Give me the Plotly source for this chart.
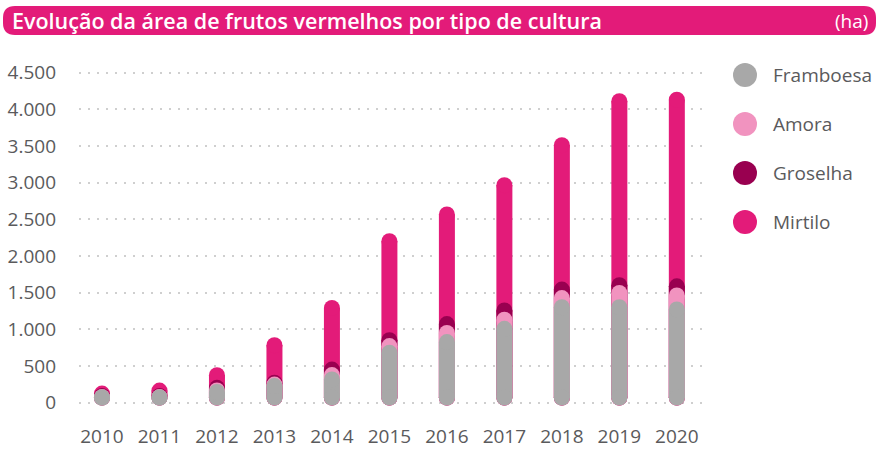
import plotly.graph_objects as go

# ── Data (ha) ────────────────────────────────────────────────────────────────
years = [2010, 2011, 2012, 2013, 2014, 2015, 2016, 2017, 2018, 2019, 2020]
framboesa = [175, 175, 255, 335, 425, 790, 935, 1115, 1410, 1410, 1380]
amora = [10, 10, 20, 20, 60, 90, 125, 125, 125, 195, 190]
groselha = [15, 15, 35, 25, 75, 80, 120, 125, 115, 105, 125]
mirtilo = [32, 73, 173, 512, 840, 1350, 1495, 1710, 1970, 2510, 2545]

series_names = ["Framboesa", "Amora", "Groselha", "Mirtilo"]
series_values = [framboesa, amora, groselha, mirtilo]
y_tickvals = [0, 500, 1000, 1500, 2000, 2500, 3000, 3500, 4000, 4500]
y_ticktext = ["0", "500", "1.000", "1.500", "2.000", "2.500",
              "3.000", "3.500", "4.000", "4.500"]

# ── Styling ──────────────────────────────────────────────────────────────────
COLORS = {
    "Framboesa": "#a8a8a8",
    "Amora": "#f193bf",
    "Groselha": "#990050",
    "Mirtilo": "#e31b79",
}
TITLE_BG = "#e31b79"
TEXT = "#5a5a5c"
FONT = "Open Sans, Lato, Arial, sans-serif"

W, H = 879, 449
M_L, M_R, M_T, M_B = 79, 10, 69, 42
PLOT_W = W - M_L - M_R
PLOT_H = H - M_T - M_B
MAIN_RIGHT_PX = 705
X_RANGE = [2009.6, 2020.49]
Y_RANGE = [-60, 4550]
BAR_PX = 16
BOTTOM = -40  # visual bottom of the rounded bars

px_per_y = PLOT_H / (Y_RANGE[1] - Y_RANGE[0])
rad = (BAR_PX / 2) / px_per_y


def px_to_paper(x, y):
    return (x - M_L) / PLOT_W, 1 - (y - M_T) / PLOT_H


fig = go.Figure()

# cumulative tops, drawn back to front; each pill = thick line + round ends
cum = []
running = [0] * len(years)
for vals in series_values:
    running = [a + b for a, b in zip(running, vals)]
    cum.append(running)

for name, tops in reversed(list(zip(series_names, cum))):
    col = COLORS[name]
    xs, ys = [], []
    for yr, t in zip(years, tops):
        xs += [yr, yr, None]
        ys += [BOTTOM + rad, max(t - rad, BOTTOM + rad), None]
    fig.add_trace(
        go.Scatter(
            x=xs, y=ys, mode="lines+markers", name=name,
            line={"color": col, "width": BAR_PX},
            marker={"size": BAR_PX, "color": col, "line": {"width": 0}},
            showlegend=False, hoverinfo="skip",
        )
    )

# ── Custom legend (big round markers) on a side axis ────────────────────────
leg_left_px, leg_right_px = 730, W - M_R
leg_first_y, leg_step = 75, 49
leg_top = -(leg_first_y - M_T) / leg_step
leg_bottom = leg_top + PLOT_H / leg_step
fig.add_trace(
    go.Scatter(
        x=[15] * len(series_names), y=list(range(len(series_names))),
        xaxis="x2", yaxis="y2", mode="markers", cliponaxis=False,
        marker={"size": 24, "color": [COLORS[n] for n in series_names]},
        showlegend=False, hoverinfo="skip",
    )
)
annotations = [
    {
        "x": 41, "y": i, "xref": "x2", "yref": "y2", "text": n,
        "showarrow": False, "xanchor": "left", "yanchor": "middle",
        "font": {"size": 19, "color": TEXT, "family": FONT},
    }
    for i, n in enumerate(series_names)
]

# ── Title bar ────────────────────────────────────────────────────────────────
bx0, bx1, by0, by1, cr = 3, 876, 6, 35, 12
pts = [
    ("M", bx0 + cr, by0), ("L", bx1 - cr, by0),
    ("Q", bx1, by0, bx1, by0 + cr), ("L", bx1, by1 - cr),
    ("Q", bx1, by1, bx1 - cr, by1), ("L", bx0 + cr, by1),
    ("Q", bx0, by1, bx0, by1 - cr), ("L", bx0, by0 + cr),
    ("Q", bx0, by0, bx0 + cr, by0),
]
path = ""
for p in pts:
    cmd, coords = p[0], p[1:]
    conv = []
    for i in range(0, len(coords), 2):
        fx, fy = px_to_paper(coords[i], coords[i + 1])
        conv.append(f"{fx:.5f},{fy:.5f}")
    path += cmd + " ".join(conv) + " "
path += "Z"

tx, ty = px_to_paper(10, 21)
rx, _ = px_to_paper(870, 21)
annotations += [
    {
        "x": tx, "y": ty, "xref": "paper", "yref": "paper",
        "text": "Evolução da área de frutos vermelhos por tipo de cultura",
        "showarrow": False, "xanchor": "left", "yanchor": "middle",
        "font": {"size": 21.5, "color": "#ffffff", "family": FONT, "weight": 600},
    },
    {
        "x": rx, "y": ty, "xref": "paper", "yref": "paper", "text": "(ha)",
        "showarrow": False, "xanchor": "right", "yanchor": "middle",
        "font": {"size": 19, "color": "#ffffff", "family": FONT},
    },
]

fig.update_layout(
    width=W, height=H,
    margin={"l": M_L, "r": M_R, "t": M_T, "b": M_B, "autoexpand": False},
    paper_bgcolor="#ffffff", plot_bgcolor="#ffffff",
    showlegend=False,
    font={"family": FONT, "color": TEXT},
    shapes=[{
        "type": "path", "path": path, "xref": "paper", "yref": "paper",
        "fillcolor": TITLE_BG, "line": {"width": 0}, "layer": "below",
    }],
    annotations=annotations,
    xaxis={
        "domain": [0, (MAIN_RIGHT_PX - M_L) / PLOT_W],
        "range": X_RANGE, "tickvals": years,
        "ticktext": [str(y) for y in years],
        "showgrid": False, "zeroline": False, "showline": False,
        "tickfont": {"size": 19, "color": TEXT},
        "ticklabelstandoff": 16, "automargin": False,
    },
    yaxis={
        "range": Y_RANGE, "tickvals": y_tickvals, "ticktext": y_ticktext,
        "showgrid": True, "gridcolor": "#cfcfcf", "gridwidth": 2,
        "griddash": "2px,7px", "zeroline": False, "showline": False,
        "tickfont": {"size": 19, "color": TEXT},
        "ticklabelstandoff": 22, "automargin": False,
    },
    xaxis2={
        "domain": [(leg_left_px - M_L) / PLOT_W, 1],
        "range": [0, leg_right_px - leg_left_px], "visible": False,
        "anchor": "y2",
    },
    yaxis2={
        "domain": [0, 1], "range": [leg_bottom, leg_top], "visible": False,
        "anchor": "x2",
    },
)

fig.write_html(
    "out.html",
    config={"displayModeBar": False},
    post_script="document.body.style.margin = '0';",
)
